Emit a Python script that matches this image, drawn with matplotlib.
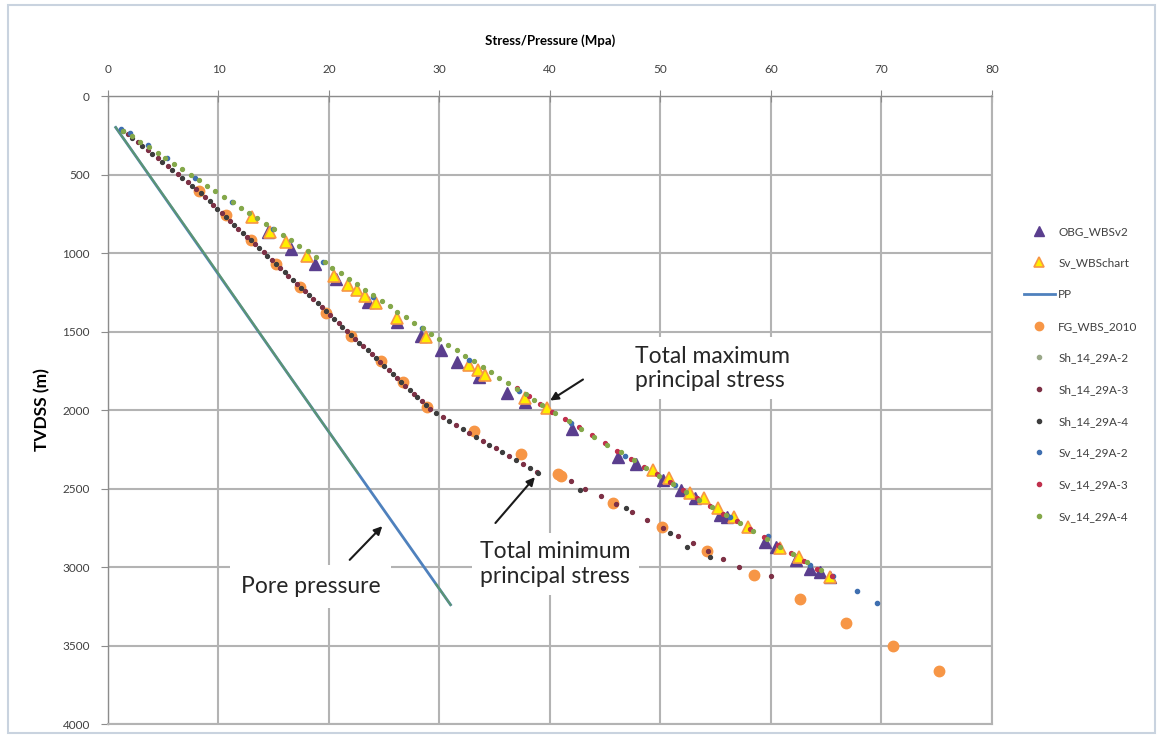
import matplotlib
matplotlib.use("Agg")
import matplotlib.pyplot as plt
from matplotlib.lines import Line2D
from matplotlib.patches import Rectangle

plt.rcParams['font.family'] = ['Lato', 'DejaVu Sans']

# OBG_WBSv2 (purple triangles)
obg_mpa = [14.5, 16.6, 18.7, 20.6, 23.5, 26.2, 28.3, 30.1, 31.6, 33.6, 36.1, 37.7, 42.0,
           46.2, 47.8, 50.2, 51.9, 53.1, 55.4, 56.0, 59.5, 60.5, 62.3, 63.5, 64.4, 65.3]
obg_depth = [864, 975, 1072, 1168, 1310, 1441, 1529, 1618, 1694, 1788, 1890, 1947, 2124,
             2296, 2343, 2446, 2510, 2563, 2669, 2680, 2840, 2872, 2956, 3010, 3030, 3062]

# Sv_WBSchart (yellow triangles)
svw_mpa = [13.0, 14.7, 16.1, 18.0, 20.5, 21.7, 22.5, 23.3, 24.3, 26.2, 28.8, 32.7, 33.5,
           34.1, 37.7, 39.7, 49.3, 50.8, 52.7, 53.9, 55.2, 56.7, 57.9, 60.8, 62.5, 65.3]
svw_depth = [768, 864, 928, 1019, 1146, 1204, 1236, 1272, 1320, 1416, 1533, 1713, 1745,
             1777, 1924, 1990, 2384, 2436, 2531, 2563, 2626, 2680, 2743, 2880, 2934, 3062]

# PP (pore pressure line)
pp_mpa = [0.7, 15.7, 31.0]
pp_depth = [200, 1710, 3240]

# FG_WBS_2010 (orange circles)
fg_mpa = [8.2, 10.7, 12.9, 15.2, 17.4, 19.7, 22.0, 24.7, 26.7, 28.9, 33.1, 37.4, 40.7,
          41.0, 45.7, 50.1, 54.2, 58.5, 62.6, 66.8, 71.0, 75.2]
fg_depth = [605, 755, 920, 1070, 1218, 1384, 1527, 1688, 1822, 1979, 2134, 2278, 2408,
            2420, 2592, 2743, 2900, 3051, 3204, 3358, 3506, 3661]

# Sh_14_29A-2 (runs along the pore pressure trend)
sh2_mpa = [0.7, 8.7, 16.6, 22.6, 29.7, 31.0]
sh2_depth = [200, 1000, 1800, 2400, 3110, 3240]

# Sh_14_29A-3
sh3_mpa = [1.8, 2.7, 3.6, 4.5, 5.4, 6.3, 7.2, 8.0, 8.8, 9.5, 10.3, 11.0, 11.8, 12.6, 13.3,
           14.1, 14.8, 15.6, 16.3, 17.1, 17.8, 18.6, 19.4, 20.1, 20.9, 21.6, 22.4, 23.1,
           23.9, 24.6, 25.4, 26.2, 26.9, 27.7, 28.4, 29.1, 30.3, 31.5, 32.7, 33.9, 35.1,
           36.3, 37.6, 38.8, 41.9, 43.2, 44.6, 46.0, 47.4, 48.8, 50.2, 51.6, 52.9, 54.3,
           55.7, 57.1, 60.0]
sh3_depth = [245, 295, 345, 395, 445, 495, 545, 595, 645, 695, 745, 795, 845, 895, 945,
             995, 1045, 1095, 1145, 1195, 1245, 1295, 1345, 1395, 1445, 1495, 1545, 1595,
             1645, 1695, 1745, 1795, 1845, 1895, 1945, 1995, 2045, 2095, 2145, 2195, 2245,
             2295, 2345, 2395, 2450, 2500, 2550, 2600, 2650, 2700, 2750, 2800, 2850, 2900,
             2950, 3000, 3057]

# Sh_14_29A-4
sh4_mpa = [1.4, 2.2, 3.1, 4.0, 4.9, 5.8, 6.7, 7.6, 8.4, 9.2, 9.9, 10.7, 11.4, 12.2, 12.9,
           13.7, 14.4, 15.2, 16.0, 16.7, 17.5, 18.2, 19.0, 19.7, 20.5, 21.2, 22.0, 22.7,
           23.5, 24.3, 25.0, 25.8, 26.5, 27.3, 28.0, 28.8, 29.7, 30.9, 32.1, 33.3, 34.5,
           35.7, 36.9, 38.2, 38.9, 42.7, 46.9, 50.9, 52.4, 54.5]
sh4_depth = [220, 270, 320, 370, 420, 470, 520, 570, 620, 670, 720, 770, 820, 870, 920,
             970, 1020, 1070, 1120, 1170, 1220, 1270, 1320, 1370, 1420, 1470, 1520, 1570,
             1620, 1670, 1720, 1770, 1820, 1870, 1920, 1970, 2020, 2070, 2120, 2170, 2220,
             2270, 2320, 2370, 2400, 2510, 2626, 2786, 2871, 2935]

# Sv_14_29A-2
sv2_mpa = [1.2, 2.0, 3.6, 5.3, 7.9, 11.2, 14.9, 19.5, 24.0, 28.4, 32.7, 37.2, 41.9, 46.8,
           51.3, 56.3, 59.7, 63.5, 65.6, 67.8, 69.6]
sv2_depth = [210, 238, 310, 397, 520, 676, 845, 1060, 1280, 1475, 1680, 1880, 2080, 2290,
             2480, 2680, 2800, 2985, 3060, 3150, 3230]

# Sv_14_29A-3
sv3_mpa = [37.0, 38.1, 39.1, 40.2, 41.4, 42.6, 43.8, 45.0, 46.1, 47.3, 48.5, 49.7, 50.9,
           52.0, 53.3, 54.5, 55.7, 56.9, 58.1, 59.4, 60.6, 61.8, 63.0, 64.2, 65.5]
sv3_depth = [1860, 1910, 1960, 2010, 2060, 2110, 2160, 2210, 2260, 2310, 2360, 2410, 2460,
             2510, 2560, 2610, 2660, 2710, 2760, 2810, 2860, 2910, 2960, 3010, 3060]

# Sv_14_29A-4
sv4_mpa = [1.4, 2.2, 2.9, 3.7, 4.5, 5.2, 6.0, 6.7, 7.5, 8.2, 9.0, 9.7, 10.5, 11.3, 12.0,
           12.8, 13.5, 14.3, 15.0, 15.8, 16.6, 17.3, 18.1, 18.8, 19.6, 20.3, 21.1, 21.8,
           22.5, 23.3, 24.0, 24.8, 25.5, 26.2, 27.0, 27.7, 28.5, 29.2, 30.0, 30.8, 31.6,
           32.3, 33.1, 33.9, 34.7, 35.4, 36.2, 37.0, 37.8, 38.6, 39.3, 40.5, 41.7, 42.8,
           44.0, 45.2, 46.4, 47.6, 48.7, 49.9, 51.1, 52.3, 53.5, 54.7, 55.9, 57.2, 58.4,
           59.6, 60.8, 62.0, 63.3, 64.5]
sv4_depth = [220, 255, 290, 325, 360, 395, 430, 465, 500, 535, 570, 605, 640, 675, 710,
             745, 780, 815, 850, 885, 920, 955, 990, 1025, 1060, 1095, 1130, 1165, 1200,
             1235, 1270, 1305, 1340, 1375, 1410, 1445, 1480, 1515, 1550, 1585, 1620, 1655,
             1690, 1725, 1760, 1795, 1830, 1865, 1900, 1935, 1970, 2020, 2070, 2120, 2170,
             2220, 2270, 2320, 2370, 2420, 2470, 2520, 2570, 2620, 2670, 2720, 2770, 2820,
             2870, 2920, 2970, 3020]

purple = '#5a3e8e'
orange = '#f79646'
blue = '#4f81bd'
c_sh2 = '#9aa889'
c_sh3 = '#7d3045'
c_sh4 = '#3d3d3d'
c_sv2 = '#3f6fb0'
c_sv3 = '#c0304d'
c_sv4 = '#84a84a'

fig = plt.figure(figsize=(11.61, 7.37), dpi=100)
fig.patches.append(Rectangle((0.007, 0.006), 0.988, 0.987, transform=fig.transFigure,
                             fill=False, edgecolor='#c9d3df', lw=1.5))
ax = fig.add_axes([0.0930, 0.0176, 0.7614, 0.8521])

ax.plot(obg_mpa, obg_depth, ls='none', marker='^', ms=8.5, color=purple, zorder=3)
ax.plot(svw_mpa, svw_depth, ls='none', marker='^', ms=8.5, mfc='#ffee00', mec=orange,
        mew=1.2, zorder=3)
ax.plot(pp_mpa, pp_depth, color=blue, lw=2.0, zorder=3)
ax.plot(fg_mpa, fg_depth, ls='none', marker='o', ms=7.5, color=orange, zorder=3)
ax.plot(sh2_mpa[:4], sh2_depth[:4], color='#5f9a62', lw=1.6, alpha=0.8, zorder=4)
ax.plot(sh2_mpa[4:], sh2_depth[4:], color='#5f9a62', lw=1.6, alpha=0.8, zorder=4)
ax.plot(sh3_mpa, sh3_depth, ls='none', marker='o', ms=2.8, color=c_sh3, zorder=4)
ax.plot(sh4_mpa, sh4_depth, ls='none', marker='o', ms=2.8, color=c_sh4, zorder=4)
ax.plot(sv2_mpa, sv2_depth, ls='none', marker='o', ms=3.0, color=c_sv2, zorder=4)
ax.plot(sv3_mpa, sv3_depth, ls='none', marker='o', ms=2.8, color=c_sv3, zorder=4)
ax.plot(sv4_mpa, sv4_depth, ls='none', marker='o', ms=2.8, color=c_sv4, zorder=4)

ax.set_xlim(0, 80)
ax.set_ylim(4000, 0)
ax.xaxis.tick_top()
ax.xaxis.set_label_position('top')
ax.set_xticks(range(0, 81, 10))
ax.set_yticks(range(0, 4001, 500))
ax.grid(True, color='#b3b3b3', lw=1.5)
ax.set_axisbelow(True)
for side in ['right', 'bottom']:
    ax.spines[side].set_color('#b3b3b3')
    ax.spines[side].set_linewidth(1.5)
for side in ['left', 'top']:
    ax.spines[side].set_color('#8c8c8c')
    ax.spines[side].set_linewidth(1.0)
ax.tick_params(axis='x', direction='inout', length=8, color='#8c8c8c', labelsize=8.5,
               labelcolor='#404040', pad=11)
ax.tick_params(axis='y', direction='out', length=5, color='#8c8c8c', labelsize=8.5,
               labelcolor='#404040', pad=8)
ax.set_xlabel('Stress/Pressure (Mpa)', fontsize=9.5, fontweight='bold', labelpad=14)
ax.set_ylabel('TVDSS (m)', fontsize=12.5, fontweight='bold', labelpad=9)

box = dict(facecolor='white', edgecolor='none', pad=6)
ax.text(47.7, 1735, 'Total maximum\nprincipal stress', fontsize=16.5, color='#262626',
        va='center', ha='left', linespacing=1.2, bbox=box, zorder=6)
ax.annotate('', xy=(39.8, 1949), xytext=(43.2, 1796),
            arrowprops=dict(arrowstyle='-|>', color='#1a1a1a', lw=1.5, mutation_scale=12),
            zorder=7)
ax.text(33.7, 2980, 'Total minimum\nprincipal stress', fontsize=16.5, color='#262626',
        va='center', ha='left', linespacing=1.2, bbox=box, zorder=6)
ax.annotate('', xy=(38.8, 2414), xytext=(34.9, 2733),
            arrowprops=dict(arrowstyle='-|>', color='#1a1a1a', lw=1.5, mutation_scale=12),
            zorder=7)
ax.text(12.0, 3121, 'Pore pressure', fontsize=16.5, color='#262626',
        va='center', ha='left', bbox=dict(facecolor='white', edgecolor='none', pad=8),
        zorder=6)
ax.annotate('', xy=(25.0, 2727), xytext=(21.7, 2967),
            arrowprops=dict(arrowstyle='-|>', color='#1a1a1a', lw=1.5, mutation_scale=12),
            zorder=7)

handles = [
    Line2D([], [], ls='none', marker='^', ms=7, color=purple),
    Line2D([], [], ls='none', marker='^', ms=7, mfc='#ffee00', mec=orange, mew=1.2),
    Line2D([], [], color=blue, lw=2.0),
    Line2D([], [], ls='none', marker='o', ms=6, color=orange),
    Line2D([], [], ls='none', marker='o', ms=3, color=c_sh2),
    Line2D([], [], ls='none', marker='o', ms=3, color=c_sh3),
    Line2D([], [], ls='none', marker='o', ms=3, color=c_sh4),
    Line2D([], [], ls='none', marker='o', ms=3, color=c_sv2),
    Line2D([], [], ls='none', marker='o', ms=3, color=c_sv3),
    Line2D([], [], ls='none', marker='o', ms=3, color=c_sv4),
]
labels = ['OBG_WBSv2', 'Sv_WBSchart', 'PP', 'FG_WBS_2010', 'Sh_14_29A-2', 'Sh_14_29A-3',
          'Sh_14_29A-4', 'Sv_14_29A-2', 'Sv_14_29A-3', 'Sv_14_29A-4']
fig.legend(handles, labels, loc='upper left', bbox_to_anchor=(1018 / 1161, 1 - 220 / 737),
           frameon=False, fontsize=8.5, labelspacing=1.75, handlelength=2.6,
           handletextpad=0.3, borderpad=0, labelcolor='#404040')

fig.savefig('out.png', dpi=100)
